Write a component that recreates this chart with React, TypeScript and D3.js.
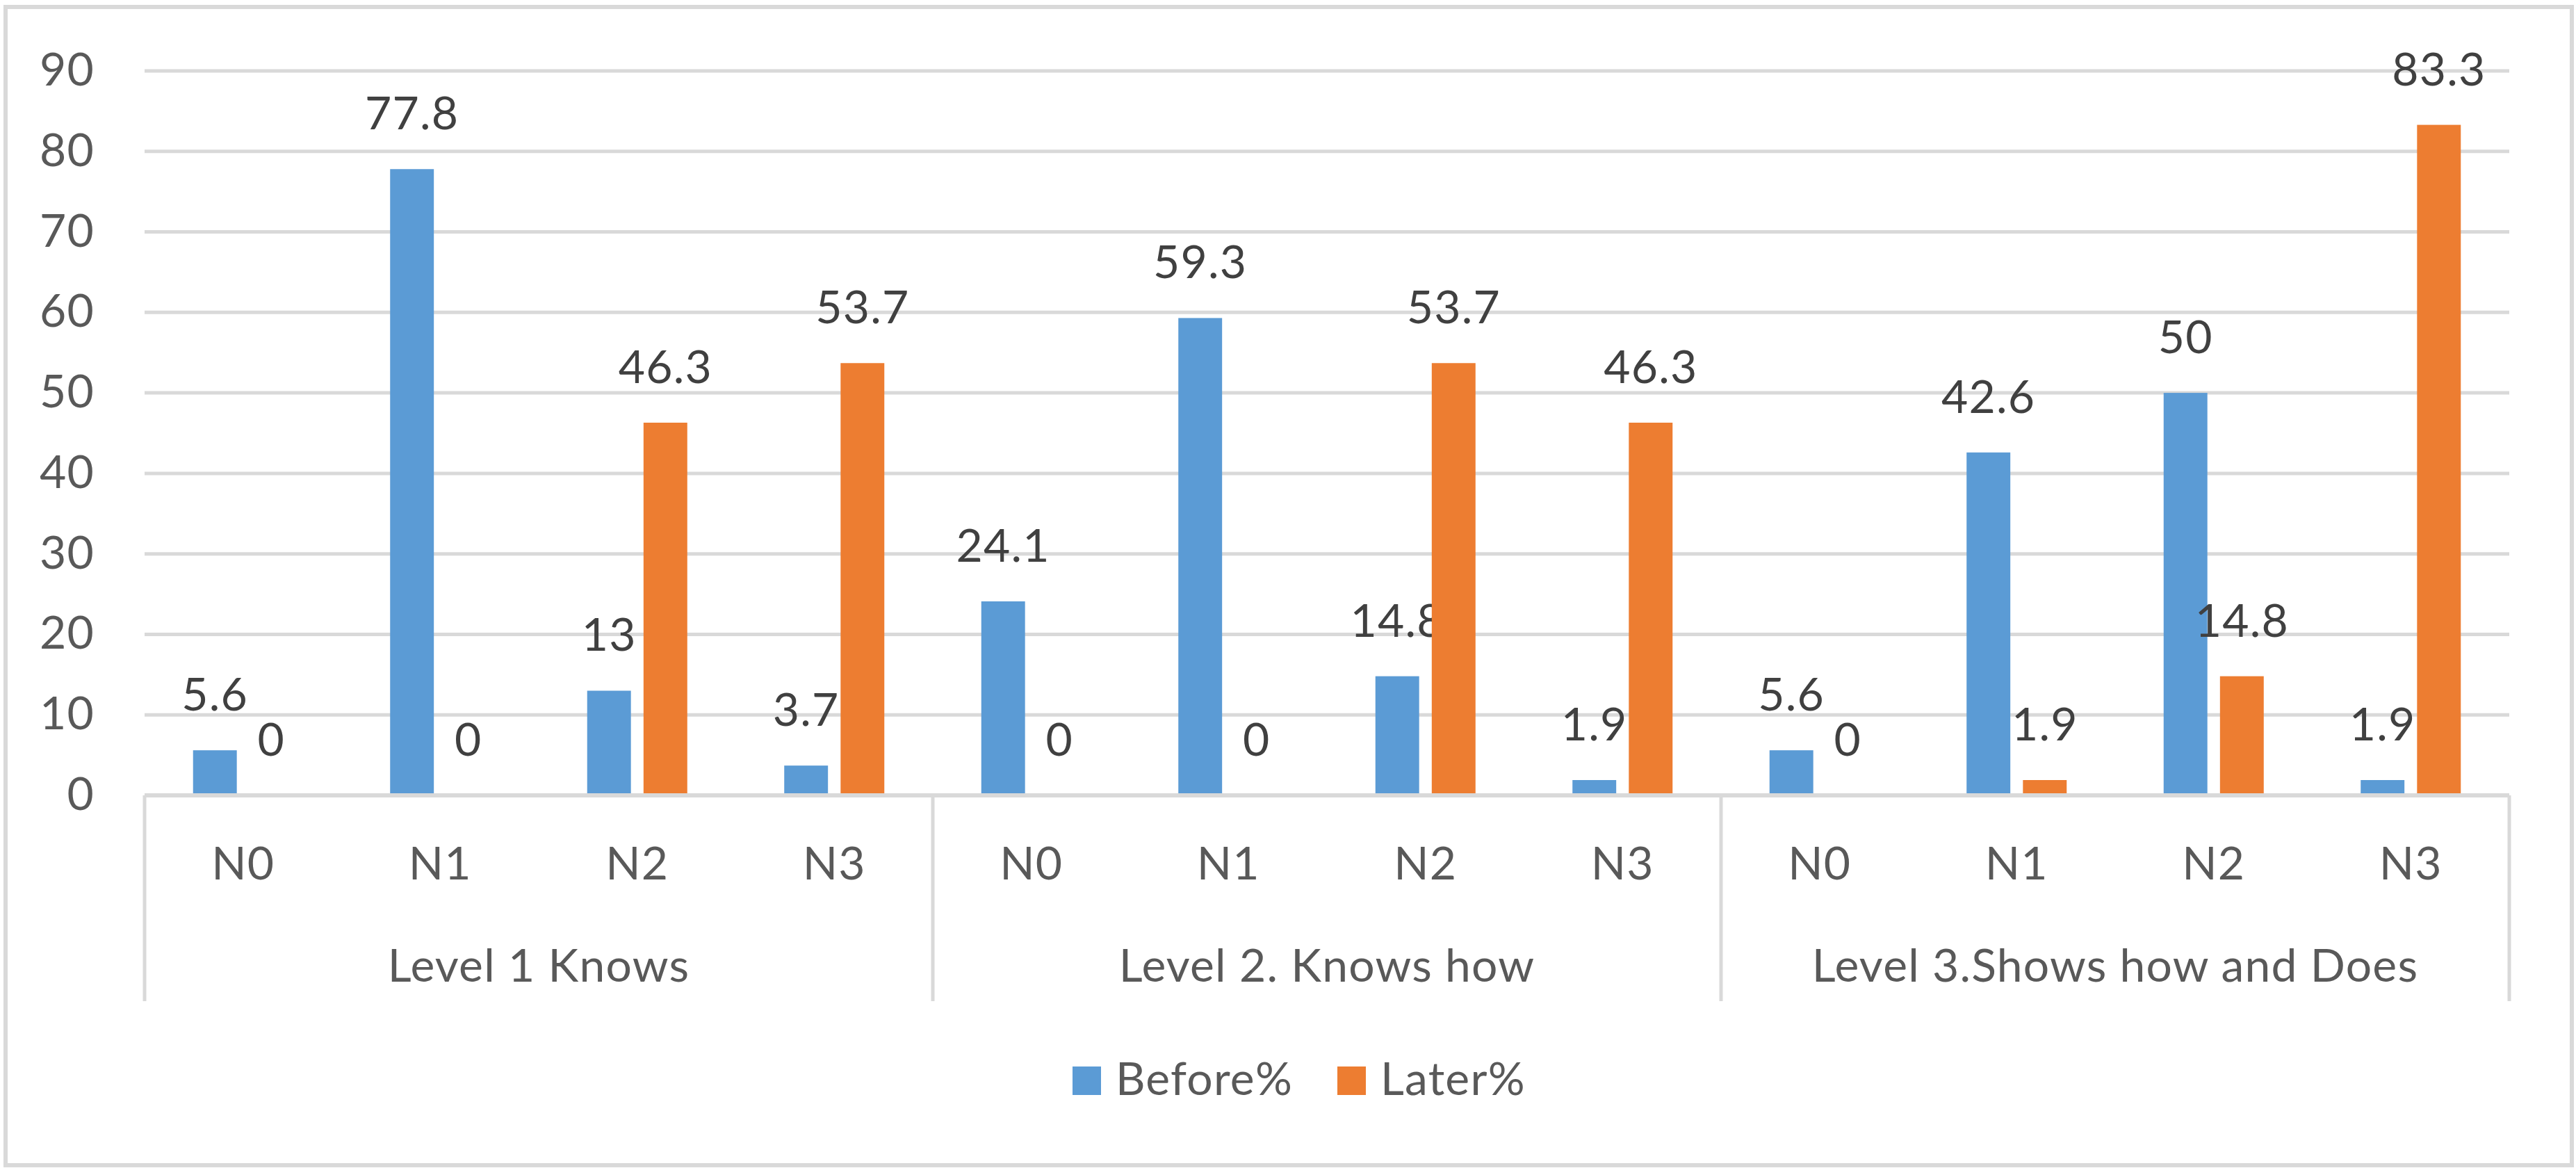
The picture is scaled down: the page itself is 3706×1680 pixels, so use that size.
import { useEffect, useRef } from "react";
import * as d3 from "d3";

const groups = ["Level 1 Knows", "Level 2. Knows how", "Level 3.Shows how and Does"];
const levels = ["N0", "N1", "N2", "N3"];
const seriesNames = ["Before%", "Later%"];
const before = [5.6, 77.8, 13, 3.7, 24.1, 59.3, 14.8, 1.9, 5.6, 42.6, 50, 1.9];
const later = [0, 0, 46.3, 53.7, 0, 0, 53.7, 46.3, 0, 1.9, 14.8, 83.3];
const yTicks = [0, 10, 20, 30, 40, 50, 60, 70, 80, 90];

const colors = ["#5b9bd5", "#ed7d31"];

export default function App() {
  const ref = useRef<SVGSVGElement>(null);
  const width = 3706;
  const height = 1680;

  useEffect(() => {
    document.body.style.margin = "0";
    document.body.style.overflow = "hidden";
    if (!ref.current) return;

    const svg = d3.select(ref.current);
    svg.selectAll("*").remove();

    const font = "Lato, 'Open Sans', sans-serif";
    const fs = 66;
    const ls = 1.2;
    const grid = "#d9d9d9";

    const left = 208;
    const right = 3610;
    const top = 102;
    const bottom = 1144;
    const axisBottom = 1440;

    // Outer frame
    svg
      .append("rect")
      .attr("x", 8)
      .attr("y", 10)
      .attr("width", 3692)
      .attr("height", 1666)
      .attr("fill", "#fff")
      .attr("stroke", grid)
      .attr("stroke-width", 6);

    const cats = d3.range(groups.length * levels.length);
    const x = d3.scaleBand<number>().domain(cats).range([left, right]);
    const gx = d3.scaleBand<string>().domain(groups).range([left, right]);
    const y = d3.scaleLinear().domain([0, 90]).range([bottom, top]);

    const band = x.bandwidth();
    const barW = band * 0.222;
    const gap = band * 0.064;

    // Gridlines
    svg
      .append("g")
      .selectAll("line")
      .data(yTicks)
      .join("line")
      .attr("x1", left)
      .attr("x2", right)
      .attr("y1", (d) => y(d))
      .attr("y2", (d) => y(d))
      .attr("stroke", grid)
      .attr("stroke-width", 5);

    // Y tick labels
    svg
      .append("g")
      .selectAll("text")
      .data(yTicks)
      .join("text")
      .attr("x", 136)
      .attr("y", (d) => y(d) + 21)
      .attr("text-anchor", "end")
      .attr("font-family", font)
      .attr("font-size", fs)
      .attr("letter-spacing", ls)
      .attr("fill", "#595959")
      .text((d) => d);

    // Bars
    const series = [before, later];
    series.forEach((vals, s) => {
      const offset = s === 0 ? -gap / 2 - barW : gap / 2;
      svg
        .append("g")
        .selectAll("rect")
        .data(vals)
        .join("rect")
        .attr("x", (_, i) => x(i)! + band / 2 + offset)
        .attr("y", (d) => y(d))
        .attr("width", barW)
        .attr("height", (d) => y(0) - y(d))
        .attr("fill", colors[s]);

      // Data labels
      svg
        .append("g")
        .selectAll("text")
        .data(vals)
        .join("text")
        .attr("x", (_, i) => x(i)! + band / 2 + offset + barW / 2)
        .attr("y", (d) => y(d) - 57)
        .attr("text-anchor", "middle")
        .attr("font-family", font)
        .attr("font-size", fs)
        .attr("letter-spacing", ls)
        .attr("fill", "#404040")
        .text((d) => d);
    });

    // Category axis line
    svg
      .append("line")
      .attr("x1", left)
      .attr("x2", right)
      .attr("y1", bottom)
      .attr("y2", bottom)
      .attr("stroke", grid)
      .attr("stroke-width", 6);

    // Group separators
    const seps = [...groups.map((g) => gx(g)!), right];
    svg
      .append("g")
      .selectAll("line")
      .data(seps)
      .join("line")
      .attr("x1", (d) => d)
      .attr("x2", (d) => d)
      .attr("y1", bottom)
      .attr("y2", axisBottom)
      .attr("stroke", grid)
      .attr("stroke-width", 5);

    // Level labels
    svg
      .append("g")
      .selectAll("text")
      .data(cats)
      .join("text")
      .attr("x", (i) => x(i)! + band / 2)
      .attr("y", 1265)
      .attr("text-anchor", "middle")
      .attr("font-family", font)
      .attr("font-size", fs)
      .attr("letter-spacing", ls)
      .attr("fill", "#595959")
      .text((i) => levels[i % levels.length]);

    // Group labels
    svg
      .append("g")
      .selectAll("text")
      .data(groups)
      .join("text")
      .attr("x", (g) => gx(g)! + gx.bandwidth() / 2)
      .attr("y", 1412)
      .attr("text-anchor", "middle")
      .attr("font-family", font)
      .attr("font-size", fs)
      .attr("letter-spacing", ls)
      .attr("fill", "#595959")
      .text((g) => g);

    // Legend
    const legendX = [1543, 1924];
    seriesNames.forEach((name, s) => {
      svg
        .append("rect")
        .attr("x", legendX[s])
        .attr("y", 1534)
        .attr("width", 41)
        .attr("height", 41)
        .attr("fill", colors[s]);
      svg
        .append("text")
        .attr("x", legendX[s] + 62)
        .attr("y", 1575)
        .attr("font-family", font)
        .attr("font-size", fs)
        .attr("letter-spacing", ls)
        .attr("fill", "#595959")
        .text(name);
    });
  }, []);

  return <svg ref={ref} width={width} height={height} style={{ display: "block" }} />;
}
